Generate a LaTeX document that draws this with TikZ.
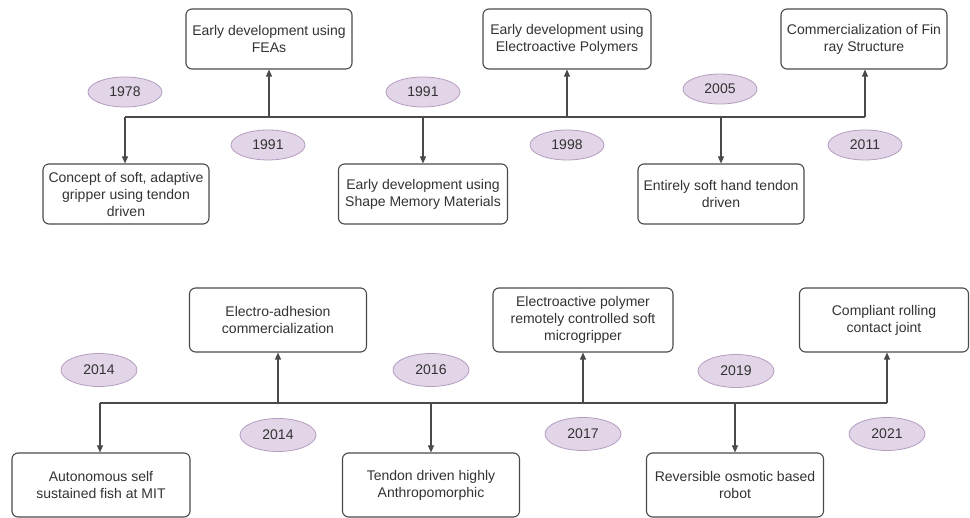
\documentclass[tikz,border=0pt]{standalone}
\usepackage{fontspec}
\setmainfont{Liberation Sans}
\usetikzlibrary{shapes.geometric,arrows.meta}
\definecolor{boxline}{HTML}{4A4A4A}
\definecolor{txt}{HTML}{333333}
\definecolor{yearfill}{HTML}{E1D5E7}
\definecolor{yearline}{HTML}{9673A6}
\tikzset{
  event/.style={draw=boxline, line width=1.1pt, rounded corners=6pt, fill=white,
    align=center, text=txt, inner sep=1pt, font=\fontsize{14}{17}\selectfont},
  evtop/.style={event, minimum width=166pt, minimum height=60pt},
  evbot/.style={event, minimum width=177pt, minimum height=64pt},
  year/.style={ellipse, draw=yearline!70, line width=0.8pt, fill=yearfill, text=txt,
    inner sep=0pt, minimum width=74pt, minimum height=30pt, font=\fontsize{14}{17}\selectfont},
  yearb/.style={year, minimum width=76pt, minimum height=33pt},
  line/.style={draw=boxline, line width=1.1pt},
  arr/.style={line, -{Triangle[length=7pt,width=6pt]}}
}
\begin{document}
\begin{tikzpicture}[x=1pt,y=-1pt]
\useasboundingbox (0,0) rectangle (970,518);
% ---------- top timeline ----------
\node[evtop] (concept) at (126,194) {Concept of soft, adaptive\\gripper using tendon\\driven};
\node[evtop] (fea) at (269,39) {Early development using\\FEAs};
\node[evtop, minimum width=169pt] (smm) at (423,194) {Early development using\\Shape Memory Materials};
\node[evtop, minimum width=168pt] (eap) at (567,39) {Early development using\\Electroactive Polymers};
\node[evtop] (hand) at (721,194) {Entirely soft hand tendon\\driven};
\node[evtop] (fin) at (864,39) {Commercialization of Fin\\ray Structure};

\coordinate (a1) at (125,117);
\coordinate (a2) at (269,117);
\coordinate (a3) at (423,117);
\coordinate (a4) at (567,117);
\coordinate (a5) at (721,117);
\coordinate (a6) at (865,117);
\draw[line] (a1) -- (a6);
\draw[arr] (a1) -- (concept.north -| a1);
\draw[arr] (a2) -- (fea.south -| a2);
\draw[arr] (a3) -- (smm.north -| a3);
\draw[arr] (a4) -- (eap.south -| a4);
\draw[arr] (a5) -- (hand.north -| a5);
\draw[arr] (a6) -- (fin.south -| a6);

\node[year] (y1978) at (125,92) {1978};
\node[year] (y1991a) at (423,92) {1991};
\node[year] (y2005) at (720,89) {2005};
\node[year] (y1991b) at (268,145) {1991};
\node[year] (y1998) at (567,145) {1998};
\node[year] (y2011) at (865,145) {2011};

% ---------- bottom timeline ----------
\node[evbot, minimum width=178pt] (fish) at (101,485) {Autonomous self\\sustained fish at MIT};
\node[evbot] (adh) at (278,320) {Electro-adhesion\\commercialization};
\node[evbot] (tendon) at (431,485) {Tendon driven highly\\Anthropomorphic};
\node[evbot, minimum width=180pt] (micro) at (583,320) {Electroactive polymer\\remotely controlled soft\\microgripper};
\node[evbot] (osm) at (735,485) {Reversible osmotic based\\robot};
\node[evbot, minimum width=169pt] (roll) at (884,320) {Compliant rolling\\contact joint};

\coordinate (b1) at (100,403);
\coordinate (b2) at (278,403);
\coordinate (b3) at (431,403);
\coordinate (b4) at (583,403);
\coordinate (b5) at (735,403);
\coordinate (b6) at (887,403);
\draw[line] (b1) -- (b6);
\draw[arr] (b1) -- (fish.north -| b1);
\draw[arr] (b2) -- (adh.south -| b2);
\draw[arr] (b3) -- (tendon.north -| b3);
\draw[arr] (b4) -- (micro.south -| b4);
\draw[arr] (b5) -- (osm.north -| b5);
\draw[arr] (b6) -- (roll.south -| b6);

\node[yearb] (y2014a) at (99,370) {2014};
\node[yearb] (y2016) at (431,370) {2016};
\node[yearb] (y2019) at (736,371) {2019};
\node[yearb] (y2014b) at (278,435) {2014};
\node[yearb] (y2017) at (583,434) {2017};
\node[yearb] (y2021) at (887,434) {2021};
\end{tikzpicture}
\end{document}
